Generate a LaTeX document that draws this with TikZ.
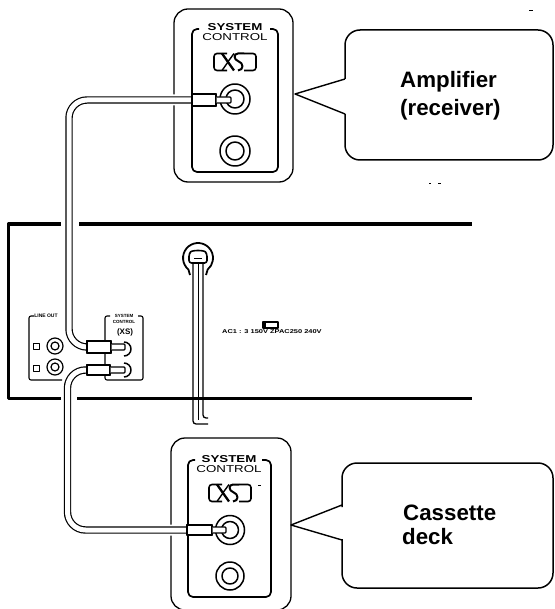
\documentclass[tikz,border=0pt]{standalone}
\usepackage{fontspec}
\setmainfont{Liberation Sans}
\newfontfamily\widefont[FakeStretch=1.33]{Liberation Sans}
\newfontfamily\widebold[FakeStretch=1.33,UprightFont={* Bold}]{Liberation Sans}
\begin{document}
\begin{tikzpicture}[x=1pt,y=-1pt,line join=round,
  outerpanel/.style={draw,line width=1.3pt,rounded corners=14pt,inner sep=0pt},
  wall/.style={line width=3.2pt},
  bubble/.style={line width=1.5pt,rounded corners=15pt},
  jackouter/.style={circle,draw,fill=white,line width=1.5pt,inner sep=0pt},
  jackinner/.style={circle,draw,fill=white,line width=1.5pt,inner sep=0pt},
  plugbody/.style={rectangle,draw,fill=white,line width=1.3pt,inner sep=0pt},
  plugtip/.style={draw,fill=white,line width=1.3pt,rounded corners=1pt},
  cable/.style={preaction={draw=white,line width=11pt},double=white,double distance=5pt,line width=1.2pt,rounded corners=18pt},
  thin box/.style={line width=1.1pt,rounded corners=2pt},
  bigtext/.style={font=\fontsize{22.3}{24}\bfseries\selectfont,anchor=west,inner sep=0pt},
  sysone/.style={font=\fontsize{10}{10}\selectfont\widebold,inner sep=0pt},
  systwo/.style={font=\fontsize{10}{10}\selectfont\widefont,inner sep=0pt},
  tiny/.style={font=\fontsize{5}{5}\selectfont\bfseries,inner sep=0pt},
  xslogo/.pic={
    \draw[line width=1.6pt,rounded corners=3pt] (-8,-8.5) -- (-21,-8.5) -- (-21,8.5) -- (-8,8.5);
    \draw[line width=2.3pt] (-13,-8.5) -- (-1,8.5);
    \draw[line width=1.4pt] (-13,8.5) -- (-7,0);
    \draw[line width=1.4pt] (-6.5,-1) -- (-1,-8.5);
    \draw[line width=2pt] (9,-8.5) -- (3,-8.5) .. controls (-2,-8.5) and (-1,-2) .. (3,-1) .. controls (9,1) and (9,8) .. (3,8.5);
    \draw[line width=1.6pt,rounded corners=3pt] (9,-8.5) -- (21,-8.5) -- (21,8.5) -- (9,8.5);
  }]
\useasboundingbox (0,0) rectangle (554,609);
\fill[white] (0,0) rectangle (554,609);

% rear panel of the unit
\draw[wall] (60.5,224) -- (8.5,224) -- (8.5,398.5) -- (61,398.5);
\draw[wall] (79,224) -- (472,224);
\draw[wall] (77,398.5) -- (472,398.5);

% top panel
\node[outerpanel,minimum width=119pt,minimum height=173pt] (ampPanel) at (233.5,95.5) {};
\draw[line width=1.7pt,rounded corners=5pt] (199,29) -- (192,29) -- (192,172) -- (278,172) -- (278,29) -- (270,29);
\node[sysone] (ampSys) at (235,27) {SYSTEM};
\node[systwo] (ampCtl) at (235,37.5) {CONTROL};
\pic at (235,62) {xslogo};
\node[jackouter,minimum size=30pt] (ampJackA) at (235,99) {};
\node[jackinner,minimum size=18pt] (ampJackAi) at (235,99) {};
\node[jackouter,minimum size=30pt] (ampJackB) at (235,151) {};
\node[jackinner,minimum size=18pt] (ampJackBi) at (235,151) {};

% bottom panel
\node[outerpanel,minimum width=120pt,minimum height=172pt] (deckPanel) at (231,524) {};
\draw[line width=1.7pt,rounded corners=5pt] (195,460) -- (188,460) -- (188,597) -- (271,597) -- (271,460) -- (262,460);
\node[sysone] (deckSys) at (229,459) {SYSTEM};
\node[systwo] (deckCtl) at (229,469) {CONTROL};
\pic at (230,493) {xslogo};
\node[jackouter,minimum size=29pt] (deckJackA) at (230,530) {};
\node[jackinner,minimum size=17pt] (deckJackAi) at (230,530) {};
\node[jackouter,minimum size=28pt] (deckJackB) at (230,576) {};
\node[jackinner,minimum size=16pt] (deckJackBi) at (230,576) {};

% callouts
\draw[bubble] (345,79) -- (345,30) -- (553,30) -- (553,160) -- (345,160) -- (345,114);
\draw[line width=1.4pt] (345,79) -- (295,94) -- (345,114);
\node[bigtext] (ampText) at (400,82) {Amplifier};
\node[bigtext] (recText) at (400,110) {(receiver)};
\draw[bubble] (342,507) -- (342,463) -- (553,463) -- (553,588) -- (342,588) -- (342,539);
\draw[line width=1.4pt] (342,505) -- (291,525) -- (342,540);
\node[bigtext] (casText) at (403,513) {Cassette};
\node[bigtext] (deckText) at (402,537) {deck};

% line out block
\draw[thin box] (34,316) -- (29,316) -- (29,380) -- (62,380);
\node[tiny] (lineOut) at (46,316) {LINE OUT};
\node[draw,line width=1pt,minimum size=6pt,inner sep=0pt] (sqA) at (36,346) {};
\node[draw,line width=1pt,minimum size=6pt,inner sep=0pt] (sqB) at (36,368) {};
\node[jackouter,minimum size=16pt,line width=1.2pt] (loA) at (55,346) {};
\node[jackinner,minimum size=8pt,line width=1.2pt] (loAi) at (55,346) {};
\node[jackouter,minimum size=16pt,line width=1.2pt] (loB) at (55,367) {};
\node[jackinner,minimum size=8pt,line width=1.2pt] (loBi) at (55,367) {};

% system control block on the unit
\draw[thin box] (110,316) -- (105,316) -- (105,380) -- (143,380) -- (143,316) -- (138,316);
\node[font=\fontsize{4.5}{4.5}\selectfont\bfseries,inner sep=0pt,fill=white] (uSys) at (124,316) {SYSTEM};
\node[font=\fontsize{4.5}{4.5}\selectfont\bfseries,inner sep=0pt] (uCtl) at (124,322) {CONTROL};
\node[font=\fontsize{8}{8}\selectfont\bfseries,inner sep=0pt] (uLogo) at (125,332) {(XS)};
\coordinate (uJackA) at (124,349);
\coordinate (uJackB) at (124,370);

% plugs and cables
\coordinate (bendTopA) at (69,100);
\coordinate (bendTopB) at (69,347);
\coordinate (bendLowA) at (67.5,370);
\coordinate (bendLowB) at (67.5,530);
\node[plugbody,minimum width=24pt,minimum height=12pt] (ampPlug) at (204,100) {};
\node[plugbody,minimum width=24pt,minimum height=12pt] (unitPlugA) at (99,347) {};
\node[plugbody,minimum width=23pt,minimum height=10pt] (unitPlugB) at (98.5,370) {};
\node[plugbody,minimum width=25pt,minimum height=10pt] (deckPlug) at (199.5,530) {};
\draw[cable] (ampPlug.west) -- (bendTopA) -- (bendTopB) -- (unitPlugA.west);
\draw[cable] (unitPlugB.west) -- (bendLowA) -- (bendLowB) -- (deckPlug.west);
\node[plugbody,minimum width=24pt,minimum height=12pt] at (ampPlug) {};
\node[plugbody,minimum width=24pt,minimum height=12pt] at (unitPlugA) {};
\node[plugbody,minimum width=23pt,minimum height=10pt] at (unitPlugB) {};
\node[plugbody,minimum width=25pt,minimum height=10pt] at (deckPlug) {};
\draw[plugtip] (ampPlug.east |- 0,97) -- (231,97) -- (231,103) -- (ampPlug.east |- 0,103);
\draw[plugtip] (deckPlug.east |- 0,527) -- (226,527) -- (226,533) -- (deckPlug.east |- 0,533);
\draw[plugtip] (unitPlugA.east |- 0,344) -- (125,344) -- (125,350) -- (unitPlugA.east |- 0,350);
\draw[plugtip] (unitPlugB.east |- 0,367) -- (125,367) -- (125,373) -- (unitPlugB.east |- 0,373);
\draw[line width=1.5pt] ([shift={(0,-7)}]uJackA) arc[start angle=-90,end angle=90,radius=7];
\draw[line width=1.5pt] ([shift={(0,-7)}]uJackB) arc[start angle=-90,end angle=90,radius=7];

% power cord
\draw[line width=1.8pt] (190,275) -- (188.4,269.5) arc[start angle=130,end angle=410,radius=15] -- (206,275);
\draw[line width=1.6pt,fill=white,rounded corners=2.5pt] (189,263) -- (189,254) .. controls (192,250) and (204,250) .. (207,254) -- (207,263) -- cycle;
\draw[line width=1pt] (194,258) -- (202,258);
\draw[line width=1.3pt,rounded corners=3pt] (193,263) -- (193,424) -- (208,424);
\draw[line width=1.3pt,rounded corners=3pt] (203,263) -- (203,418) -- (208,418);
\draw[line width=1pt] (198,263) -- (198,420);

% voltage selector
\node[draw,line width=1.2pt,minimum width=15pt,minimum height=6pt,inner sep=0pt] (volt) at (270.5,325) {};
\draw[line width=1.5pt] (265,322.5) -- (265,327.5);
\node[font=\fontsize{5.6}{5.6}\selectfont\widebold,inner sep=0pt,anchor=west] (voltText) at (222,331.5) {AC1 : 3 150V~ZPAC250 240V~};

% specks
\draw[line width=1pt] (529,11) -- (533,11);
\draw[line width=0.8pt] (429,183) -- (431,183) (438,183) -- (441,183);
\draw[line width=0.8pt] (258,485) -- (261,485);
\end{tikzpicture}
\end{document}
